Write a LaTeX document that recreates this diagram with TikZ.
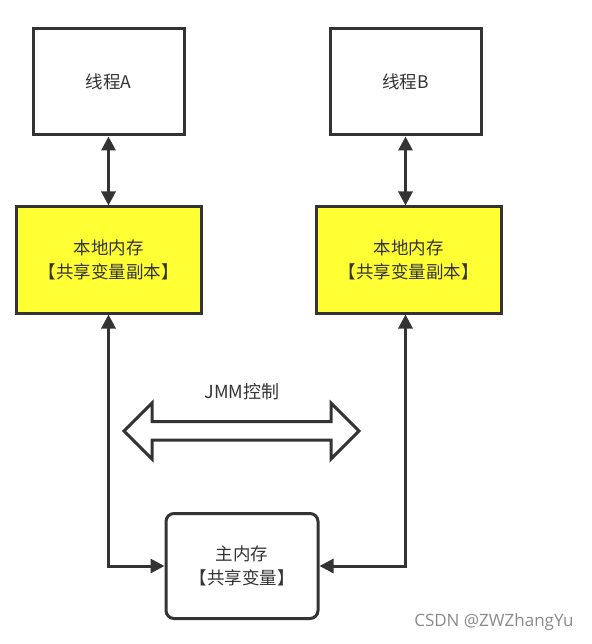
\documentclass[tikz,border=0pt]{standalone}
\usepackage{fontspec}
\setmainfont{Noto Sans CJK SC}
\newfontfamily\wmfont{Open Sans}
\usetikzlibrary{arrows.meta}
\definecolor{ink}{HTML}{333333}
\definecolor{fillyel}{HTML}{FFFF33}
\definecolor{wm}{HTML}{8A8A8A}
\begin{document}
\begin{tikzpicture}[x=1pt,y=-1pt,
  box/.style={draw=ink,line width=3pt,inner sep=0pt,font=\fontsize{17.5}{24}\selectfont,text=ink,align=center},
  link/.style={draw=ink,line width=3pt,{Triangle[length=14pt,width=14pt]}-{Triangle[length=14pt,width=14pt]}}]
\useasboundingbox (0,0) rectangle (591,644);
\node[box,minimum width=151pt,minimum height=106pt] (ta) at (108.5,82) {线程A};
\node[box,minimum width=151pt,minimum height=106pt] (tb) at (405.5,82) {线程B};
\node[box,fill=fillyel,minimum width=185pt,minimum height=106pt] (la) at (108.5,260) {本地内存\\【共享变量副本】};
\node[box,fill=fillyel,minimum width=185pt,minimum height=106pt] (lb) at (408.5,260) {本地内存\\【共享变量副本】};
\node[box,rounded corners=8pt,minimum width=152pt,minimum height=105pt] (mm) at (242,566) {主内存\\【共享变量】};
\draw[link] (ta.south) -- (ta.south |- la.north);
\draw[link] (tb.south) -- (tb.south |- lb.north);
\draw[link] (mm.west) -| (ta.south |- la.south);
\draw[link] (mm.east) -| (tb.south |- lb.south);
\node[font=\fontsize{18}{20}\selectfont,text=ink] (jmm) at (242,392) {JMM控制};
\draw[ink,line width=3pt,line join=miter,fill=white] (124,431) -- (152,403) -- (152,421.5) -- (331,421.5) -- (331,403) -- (359,431) -- (331,459) -- (331,440) -- (152,440) -- (152,459) -- cycle;
\node[font=\wmfont\fontsize{17}{19}\selectfont,text=wm,anchor=east] (wmk) at (577,622) {CSDN @ZWZhangYu};
\end{tikzpicture}
\end{document}
